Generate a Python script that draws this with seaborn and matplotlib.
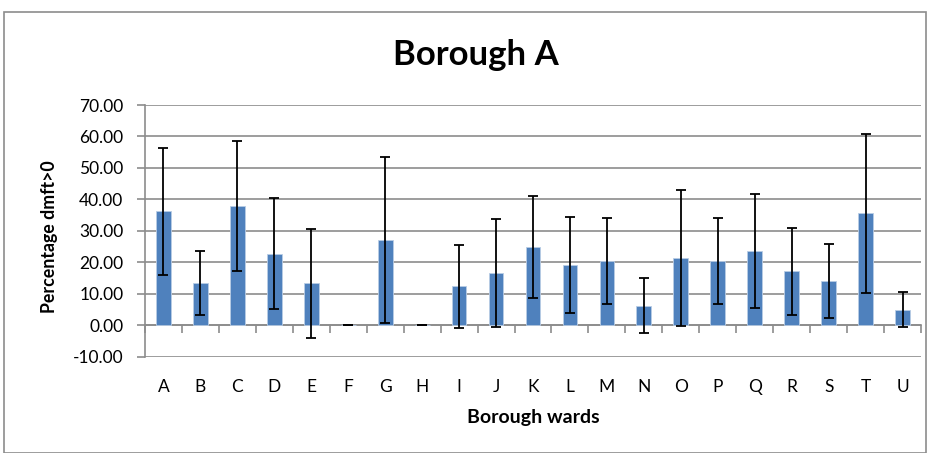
import matplotlib
matplotlib.use("Agg")
import matplotlib.pyplot as plt
import seaborn as sns
import pandas as pd
from matplotlib.patches import Rectangle

wards = list("ABCDEFGHIJKLMNOPQRSTU")
percent = [36.2, 13.5, 37.9, 22.7, 13.3, 0.0, 27.1, 0.0, 12.4, 16.5, 24.9,
           19.2, 20.4, 6.25, 21.3, 20.4, 23.6, 17.2, 14.1, 35.6, 4.9]
err = [20.1, 10.2, 20.7, 17.6, 17.2, 0.0, 26.4, 0.0, 13.2, 17.2, 16.1,
       15.2, 13.7, 8.7, 21.6, 13.7, 18.2, 13.8, 11.7, 25.2, 5.6]
yticks = [-10, 0, 10, 20, 30, 40, 50, 60, 70]

sns.set_theme(style="white")
plt.rcParams["font.family"] = ["Lato", "DejaVu Sans"]
plt.rcParams["text.color"] = "black"
plt.rcParams["axes.labelcolor"] = "black"
plt.rcParams["xtick.color"] = "black"
plt.rcParams["ytick.color"] = "black"

df = pd.DataFrame({"ward": wards, "pct": percent, "err": err})

fig = plt.figure(figsize=(9.28, 4.53), dpi=100)
ax = fig.add_axes([145 / 928, 1 - 356.7 / 453, 776 / 928, (356.7 - 105) / 453])

sns.barplot(data=df, x="ward", y="pct", color="#4F81BD", width=0.4,
            errorbar=None, ax=ax, edgecolor="#B9CDE5", linewidth=0.6,
            saturation=1, zorder=3)
ax.errorbar(x=range(len(wards)), y=df["pct"], yerr=df["err"], fmt="none",
            ecolor="black", elinewidth=1.3, capsize=3.8, capthick=1.3, zorder=4)

ax.set_xlim(-0.5, len(wards) - 0.5)
ax.set_ylim(-10, 70)
ax.set_yticks(yticks)
ax.set_yticklabels([f"{v:.2f}" for v in yticks], fontsize=12.5)
ax.yaxis.grid(True, color="#8C8C8C", linewidth=1.2, zorder=0)
ax.xaxis.grid(False)
for s in ["top", "right", "bottom"]:
    ax.spines[s].set_visible(False)
ax.spines["left"].set_color("#8C8C8C")
ax.spines["left"].set_linewidth(1.2)
ax.tick_params(axis="y", left=True, length=5.5, width=1.2, color="#8C8C8C",
               pad=10, labelcolor="black")
ax.tick_params(axis="x", bottom=False, length=0, pad=16, labelsize=12.5,
               labelcolor="black")
ax.set_xlabel("Borough wards", fontsize=14, fontweight="bold", va="center")
ax.xaxis.set_label_coords(0.5, (356.7 - 418) / 251.7)
ax.set_ylabel("Percentage dmft>0", fontsize=12.8, fontweight="bold", va="center")
ax.yaxis.set_label_coords((50 - 145) / 776, (356.7 - 237) / 251.7)

# category axis line at zero with boundary ticks
sec = ax.secondary_xaxis(0.125)
sec.set_xticks([i + 0.5 for i in range(-1, len(wards))])
sec.set_xticklabels([])
sec.tick_params(axis="x", length=6, width=1.2, color="#8C8C8C", direction="out")
sec.spines["bottom"].set_color("#8C8C8C")
sec.spines["bottom"].set_linewidth(1.2)

fig.text(476 / 928, 1 - 55 / 453, "Borough A", ha="center", va="center",
         fontsize=25, fontweight="bold", color="black")
fig.patches.append(Rectangle((4 / 928, 0), 922 / 928, 1 - 12 / 453,
                             transform=fig.transFigure, fill=False,
                             edgecolor="#8C8C8C", linewidth=1.2))

fig.savefig("out.png", dpi=100)
